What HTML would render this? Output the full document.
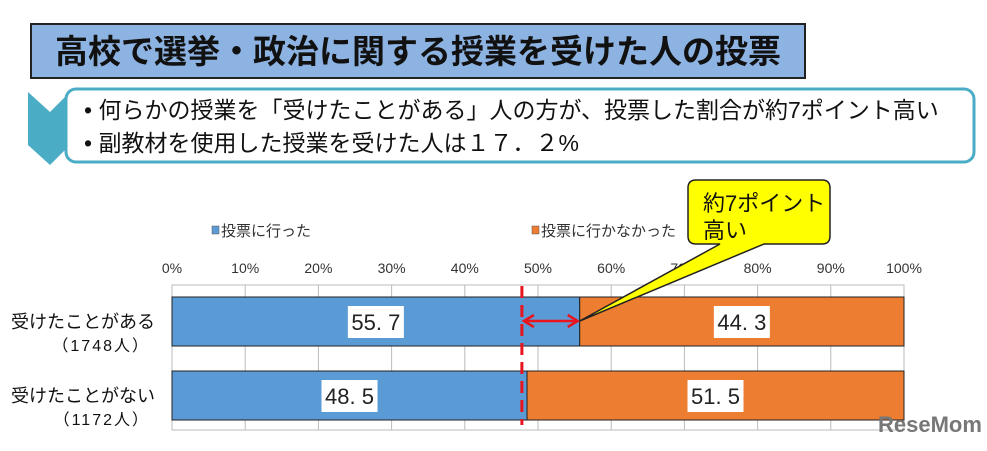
<!DOCTYPE html>
<html><head><meta charset="utf-8"><style>
body{margin:0;width:987px;height:446px;background:#fff;overflow:hidden;font-family:"Liberation Sans","Noto Sans CJK JP",sans-serif}
</style></head><body>
<svg width="987" height="446" xmlns="http://www.w3.org/2000/svg" style="font-family:'Liberation Sans','Noto Sans CJK JP',sans-serif">
<rect x="31" y="24" width="774" height="54" fill="#8db3e2" stroke="#222" stroke-width="2"/>
<text x="418" y="63" text-anchor="middle" font-size="33" font-weight="bold" fill="#111">高校で選挙・政治に関する授業を受けた人の投票</text>
<polygon points="28,92 50,112 70,92 70,145 50,165 28,145" fill="#4bacc6"/>
<rect x="66" y="89" width="908" height="73" rx="10" fill="#fff" stroke="#4bacc6" stroke-width="3"/>
<text x="84" y="118" font-size="23" fill="#111">• 何らかの授業を「受けたことがある」人の方が、投票した割合が約7ポイント高い</text>
<text x="84" y="151" font-size="23" fill="#111">• 副教材を使用した授業を受けた人は１７．２%</text>
<g id="chart"></g>
<text x="878" y="432" font-size="22" font-weight="bold" fill="#777">ReseMom</text>
</svg>
<script>
const categories=["受けたことがある","受けたことがない"];
const counts=["（1748人）","（1172人）"];
const voted=[55.7,48.5];
const notVoted=[44.3,51.5];
const ticks=[0,10,20,30,40,50,60,70,80,90,100];
const refLine=47.8;
const NS="http://www.w3.org/2000/svg";
const g=document.getElementById('chart');
const X0=172,X1=904,Y0=285,Y1=430;
const x=v=>X0+(X1-X0)*v/100;
const rowTop=[297,371],rowH=49;
function mk(t,a,txt){const e=document.createElementNS(NS,t);for(const k in a)e.setAttribute(k,a[k]);if(txt!==undefined)e.textContent=txt;g.appendChild(e);return e;}
let e=mk('rect',{x:X0,y:Y0,width:X1-X0,height:Y1-Y0,fill:'#fff',stroke:'#bbb'});


ticks.forEach(t=>{
 let l=mk('line',{x1:x(t),x2:x(t),y1:Y0,y2:Y1,stroke:'#bbb'});
 
 
 let tx=mk('text',{x:x(t),y:273,'text-anchor':'middle','font-size':14,fill:'#333'},t+'%');
 
 
});
categories.forEach((c,i)=>{
 const y=rowTop[i];
 let b=mk('rect',{x:X0,y:y,width:x(voted[i])-X0,height:rowH,fill:'#5b9bd5',stroke:'#222'});
 
 
 let o=mk('rect',{x:x(voted[i]),y:y,width:x(voted[i]+notVoted[i])-x(voted[i]),height:rowH,fill:'#ed7d31',stroke:'#222'});
 
 
 [[voted[i]/2,voted[i]],[voted[i]+notVoted[i]/2,notVoted[i]]].forEach(([p,v])=>{
  let r=mk('rect',{x:x(p)-28,y:y+9,width:56,height:32,fill:'#fff'});
  
  
  let t=mk('text',{x:x(p),y:y+33,'text-anchor':'middle','font-size':22,fill:'#222'},v.toFixed(1).replace('.','. '));
  
  
 });
 let cl=mk('text',{x:155,y:y+31,'text-anchor':'end','font-size':18,fill:'#111'},c);
 
 
 let cn=mk('text',{x:150,y:y+54,'text-anchor':'end','font-size':16,'letter-spacing':'2',fill:'#111'},counts[i]);
 
 
});
let d=mk('line',{x1:x(refLine),x2:x(refLine),y1:286,y2:425,stroke:'#e8141e','stroke-width':3,'stroke-dasharray':'12,7'});


const ay=321;
let a=mk('line',{x1:x(refLine)+3,x2:x(voted[0])-3,y1:ay,y2:ay,stroke:'#e8141e','stroke-width':2.5});


mk('path',{d:`M${x(refLine)+12},${ay-6}L${x(refLine)+2},${ay}L${x(refLine)+12},${ay+6}M${x(voted[0])-12},${ay-6}L${x(voted[0])-2},${ay}L${x(voted[0])-12},${ay+6}`,stroke:'#e8141e','stroke-width':2.5,fill:'none'});
let cb=mk('path',{d:`M696,180 H822 Q830,180 830,188 V236 Q830,244 822,244 H764 L${x(voted[0])},${ay} L720,244 H696 Q688,244 688,236 V188 Q688,180 696,180 Z`,fill:'#ffff00',stroke:'#222','stroke-width':1.5});


let c1=mk('text',{x:703,y:211,'font-size':22,fill:'#111'},'約7ポイント');


let c2=mk('text',{x:703,y:238,'font-size':22,fill:'#111'},'高い');


[[212,'#5b9bd5','投票に行った'],[532,'#ed7d31','投票に行かなかった']].forEach(([lx,col,lab])=>{
 let s=mk('rect',{x:lx,y:226,width:7,height:8,fill:col,stroke:'#555','stroke-width':0.5});
 
 
 let t=mk('text',{x:lx+9,y:236,'font-size':15,fill:'#333'},lab);
 
 
});
</script>
</body></html>
